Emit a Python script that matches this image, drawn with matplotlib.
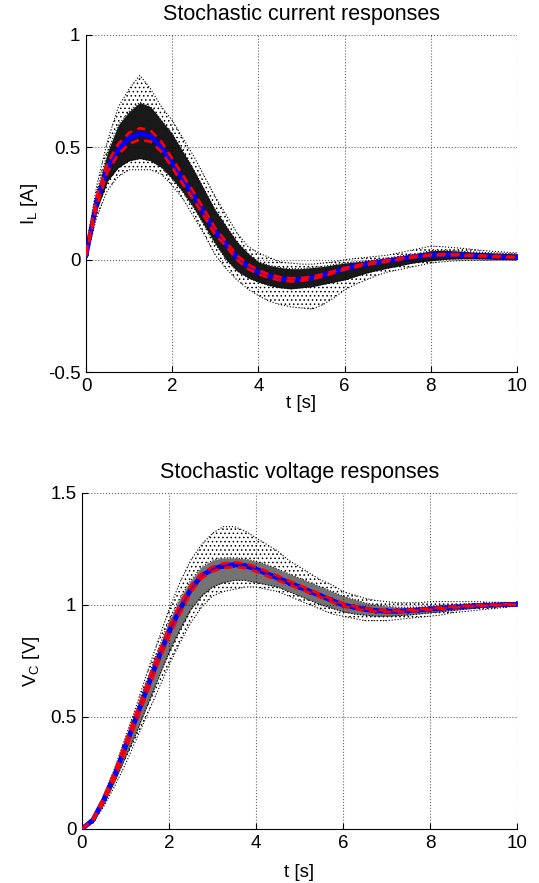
import numpy as np
import matplotlib
matplotlib.use("Agg")
import matplotlib.pyplot as plt

plt.rcParams["font.family"] = ["Liberation Sans", "DejaVu Sans"]
plt.rcParams["mathtext.fontset"] = "custom"
plt.rcParams["mathtext.rm"] = "Liberation Sans"
plt.rcParams["axes.unicode_minus"] = False
plt.rcParams["hatch.linewidth"] = 0.6

# time grid (s)
t = [0, 0.25, 0.5, 0.75, 1.0, 1.25, 1.5, 1.75, 2.0, 2.25, 2.5, 2.75, 3.0, 3.25,
     3.5, 3.75, 4.0, 4.25, 4.5, 4.75, 5.0, 5.25, 5.5, 5.75, 6.0, 6.25, 6.5, 6.75,
     7.0, 7.25, 7.5, 7.75, 8.0, 8.25, 8.5, 8.75, 9.0, 9.25, 9.5, 9.75, 10.0]

# --- current I_L [A] ---
i_mean = [0.02, 0.26, 0.41, 0.49, 0.54, 0.56, 0.55, 0.50, 0.43, 0.355, 0.285, 0.205,
          0.125, 0.07, 0.01, -0.03, -0.055, -0.073, -0.085, -0.09, -0.088, -0.08,
          -0.07, -0.055, -0.04, -0.03, -0.02, -0.012, -0.005, 0.002, 0.01, 0.016,
          0.02, 0.022, 0.022, 0.02, 0.018, 0.016, 0.014, 0.012, 0.01]
i_red_hi = [0.03, 0.28, 0.43, 0.515, 0.565, 0.585, 0.575, 0.525, 0.45, 0.375, 0.30,
            0.22, 0.14, 0.08, 0.02, -0.02, -0.047, -0.066, -0.078, -0.083, -0.082,
            -0.075, -0.065, -0.051, -0.037, -0.027, -0.017, -0.009, -0.002, 0.005,
            0.012, 0.018, 0.022, 0.024, 0.024, 0.022, 0.02, 0.018, 0.016, 0.014, 0.012]
i_red_lo = [0.015, 0.24, 0.39, 0.47, 0.515, 0.535, 0.525, 0.48, 0.41, 0.335, 0.265,
            0.19, 0.11, 0.06, 0.0, -0.04, -0.064, -0.081, -0.092, -0.097, -0.094,
            -0.086, -0.075, -0.059, -0.044, -0.033, -0.023, -0.015, -0.008, 0.0,
            0.008, 0.014, 0.018, 0.02, 0.02, 0.018, 0.016, 0.014, 0.012, 0.01, 0.008]
i_dense_hi = [0.04, 0.30, 0.48, 0.60, 0.66, 0.70, 0.68, 0.62, 0.56, 0.48, 0.40, 0.31,
              0.22, 0.15, 0.08, 0.03, -0.01, -0.025, -0.035, -0.04, -0.04, -0.035,
              -0.03, -0.022, -0.015, -0.01, -0.005, 0.0, 0.008, 0.015, 0.022, 0.03,
              0.04, 0.042, 0.04, 0.037, 0.034, 0.032, 0.03, 0.028, 0.026]
i_dense_lo = [0.01, 0.22, 0.35, 0.41, 0.44, 0.45, 0.44, 0.41, 0.36, 0.30, 0.23, 0.15,
              0.07, 0.0, -0.05, -0.08, -0.10, -0.115, -0.125, -0.13, -0.125, -0.12,
              -0.11, -0.10, -0.09, -0.075, -0.06, -0.048, -0.038, -0.028, -0.018,
              -0.01, -0.005, 0.0, 0.003, 0.004, 0.004, 0.003, 0.002, 0.001, 0.0]
i_out_hi = [0.05, 0.33, 0.53, 0.68, 0.76, 0.82, 0.76, 0.68, 0.62, 0.54, 0.46, 0.37,
            0.28, 0.20, 0.12, 0.06, 0.03, 0.01, -0.01, -0.015, -0.02, -0.02, -0.015,
            -0.01, 0.0, 0.005, 0.01, 0.015, 0.02, 0.03, 0.04, 0.05, 0.06, 0.058,
            0.054, 0.05, 0.045, 0.04, 0.036, 0.033, 0.03]
i_out_lo = [0.0, 0.19, 0.31, 0.37, 0.40, 0.40, 0.40, 0.38, 0.33, 0.27, 0.19, 0.11,
            0.02, -0.04, -0.09, -0.13, -0.16, -0.185, -0.2, -0.21, -0.215, -0.22,
            -0.2, -0.17, -0.135, -0.11, -0.09, -0.07, -0.055, -0.045, -0.035,
            -0.025, -0.015, -0.01, -0.006, -0.004, -0.003, -0.003, -0.002, -0.002, -0.002]

# --- voltage V_C [V] ---
v_mean = [0.0, 0.04, 0.13, 0.24, 0.37, 0.50, 0.63, 0.76, 0.88, 0.98, 1.07, 1.13,
          1.16, 1.175, 1.18, 1.175, 1.16, 1.14, 1.12, 1.10, 1.08, 1.06, 1.04, 1.02,
          1.0, 0.99, 0.98, 0.975, 0.972, 0.972, 0.975, 0.978, 0.982, 0.986, 0.99,
          0.993, 0.996, 0.998, 1.0, 1.002, 1.003]
v_red_hi = [0.0, 0.045, 0.14, 0.255, 0.39, 0.52, 0.65, 0.78, 0.90, 1.0, 1.085, 1.14,
            1.17, 1.185, 1.19, 1.185, 1.17, 1.15, 1.13, 1.108, 1.088, 1.067, 1.046,
            1.026, 1.006, 0.995, 0.985, 0.979, 0.976, 0.975, 0.978, 0.981, 0.985,
            0.989, 0.992, 0.995, 0.998, 1.0, 1.002, 1.003, 1.004]
v_red_lo = [0.0, 0.035, 0.12, 0.225, 0.35, 0.48, 0.61, 0.74, 0.86, 0.96, 1.055, 1.12,
            1.15, 1.165, 1.17, 1.165, 1.15, 1.13, 1.11, 1.092, 1.072, 1.053, 1.034,
            1.014, 0.994, 0.985, 0.975, 0.971, 0.968, 0.969, 0.972, 0.975, 0.979,
            0.983, 0.988, 0.991, 0.994, 0.996, 0.998, 1.001, 1.002]
v_dense_hi = [0.0, 0.045, 0.14, 0.26, 0.39, 0.53, 0.67, 0.80, 0.93, 1.03, 1.11, 1.17,
              1.20, 1.21, 1.21, 1.205, 1.195, 1.18, 1.16, 1.14, 1.12, 1.10, 1.08,
              1.06, 1.04, 1.025, 1.01, 1.0, 0.995, 0.99, 0.99, 0.99, 0.995, 0.998,
              1.0, 1.003, 1.005, 1.006, 1.007, 1.008, 1.008]
v_dense_lo = [0.0, 0.03, 0.11, 0.21, 0.32, 0.43, 0.55, 0.67, 0.79, 0.89, 0.98, 1.04,
              1.08, 1.10, 1.11, 1.11, 1.10, 1.09, 1.08, 1.06, 1.04, 1.02, 1.0, 0.985,
              0.97, 0.96, 0.955, 0.95, 0.95, 0.952, 0.955, 0.96, 0.965, 0.97, 0.975,
              0.98, 0.985, 0.99, 0.992, 0.995, 0.997]
v_out_hi = [0.0, 0.05, 0.15, 0.27, 0.41, 0.55, 0.70, 0.84, 0.98, 1.10, 1.20, 1.27,
            1.32, 1.35, 1.35, 1.33, 1.30, 1.27, 1.24, 1.20, 1.17, 1.14, 1.11, 1.09,
            1.06, 1.045, 1.03, 1.02, 1.015, 1.01, 1.01, 1.01, 1.015, 1.015, 1.015,
            1.015, 1.015, 1.013, 1.012, 1.012, 1.01]
v_out_lo = [0.0, 0.025, 0.10, 0.19, 0.29, 0.40, 0.51, 0.62, 0.73, 0.83, 0.92, 0.99,
            1.04, 1.06, 1.07, 1.08, 1.08, 1.07, 1.06, 1.04, 1.02, 1.0, 0.98, 0.96,
            0.95, 0.94, 0.93, 0.93, 0.93, 0.935, 0.94, 0.945, 0.95, 0.955, 0.965,
            0.97, 0.975, 0.98, 0.985, 0.99, 0.995]


def draw_panel(ax, mean, red_hi, red_lo, d_hi, d_lo, o_hi, o_lo, dense_alpha):
    # stochastic samples: dense core + sparse dotted fringe
    ax.fill_between(t, d_lo, d_hi, color="black", alpha=dense_alpha, lw=0, zorder=1)
    ax.fill_between(t, d_hi, o_hi, facecolor="none", edgecolor="black", hatch="....",
                    lw=0, zorder=1)
    ax.fill_between(t, o_lo, d_lo, facecolor="none", edgecolor="black", hatch="....",
                    lw=0, zorder=1)
    for curve in (o_hi, o_lo, d_hi, d_lo):
        ax.plot(t, curve, color="black", ls=":", lw=0.8, zorder=2)
    ax.plot(t, mean, color="blue", lw=3.5, marker="+", ms=4, mew=1.2, zorder=3)
    ax.plot(t, red_hi, color="red", ls="--", lw=2, dashes=(3, 2), zorder=4)
    ax.plot(t, red_lo, color="red", ls="--", lw=2, dashes=(3, 2), zorder=4)


def style_axes(ax, yticks, ylabel, title, xlabelpad):
    ax.set_xlim(0, 10)
    ax.set_ylim(yticks[0], yticks[-1])
    ax.set_xticks([0, 2, 4, 6, 8, 10])
    ax.set_xticklabels(["0", "2", "4", "6", "8", "10"])
    ax.set_yticks(yticks)
    ax.set_yticklabels([f"{y:g}" for y in yticks])
    ax.grid(True, color="black", ls=":", lw=0.8, alpha=0.6)
    ax.spines["top"].set_visible(False)
    ax.spines["right"].set_visible(False)
    ax.tick_params(direction="in", length=4, labelsize=13.5)
    ax.tick_params(axis="x", pad=4)
    ax.tick_params(axis="y", pad=4)
    ax.set_xlabel("t [s]", fontsize=13.5, labelpad=xlabelpad)
    ax.set_ylabel(ylabel, fontsize=13.5, labelpad=6)
    ax.set_title(title, fontsize=15.5, pad=11)


fig = plt.figure(figsize=(5.39, 8.83), dpi=100)
ax1 = fig.add_axes([0.1596, 0.5787, 0.7996, 0.3817])
ax2 = fig.add_axes([0.1521, 0.0612, 0.8071, 0.3805])

draw_panel(ax1, i_mean, i_red_hi, i_red_lo, i_dense_hi, i_dense_lo,
           i_out_hi, i_out_lo, 0.9)
style_axes(ax1, [-0.5, 0, 0.5, 1], r"I$_\mathrm{L}$ [A]",
           "Stochastic current responses", 0)

draw_panel(ax2, v_mean, v_red_hi, v_red_lo, v_dense_hi, v_dense_lo,
           v_out_hi, v_out_lo, 0.55)
style_axes(ax2, [0, 0.5, 1, 1.5], r"V$_\mathrm{C}$ [V]",
           "Stochastic voltage responses", 9)

fig.savefig("out.png", dpi=100)
